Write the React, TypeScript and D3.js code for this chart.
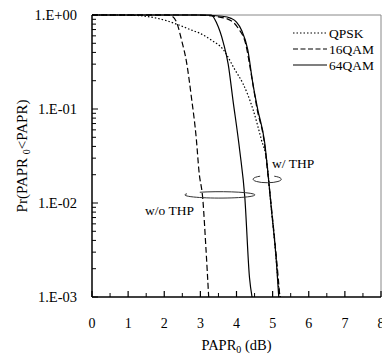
import React from "react";
import * as d3 from "d3";

// ---- data (x: PAPR0 in dB, y: Pr(PAPR0 < PAPR)) ----
const qpskDb = [0, 0.64, 1.2, 1.6, 2.06, 2.34, 2.76, 2.98, 3.31, 3.63, 3.96, 4.18, 4.46, 4.69, 4.83, 4.96, 5.06, 5.19, 5.22];
const qpskP = [1, 1, 0.99, 0.955, 0.87, 0.8, 0.69, 0.64, 0.54, 0.43, 0.26, 0.186, 0.098, 0.047, 0.029, 0.0091, 0.0037, 0.0011, 0.001];

const qam16NoThpDb = [0, 2.1, 2.2, 2.35, 2.48, 2.62, 2.75, 2.89, 2.96, 3.07, 3.15, 3.23];
const qam16NoThpP = [1, 1, 0.98, 0.82, 0.54, 0.31, 0.135, 0.047, 0.022, 0.0107, 0.0035, 0.001];

const qam64NoThpDb = [0, 3.3, 3.45, 3.64, 3.77, 3.9, 4.09, 4.23, 4.36, 4.43];
const qam64NoThpP = [1, 1, 0.82, 0.5, 0.3, 0.126, 0.036, 0.0115, 0.0016, 0.001];

const qam16ThpDb = [0, 2.9, 3.5, 3.85, 4.05, 4.25, 4.42, 4.57, 4.77, 4.87, 4.97, 5.11, 5.2];
const qam16ThpP = [1, 1, 0.955, 0.87, 0.72, 0.5, 0.22, 0.1, 0.044, 0.02, 0.0087, 0.0025, 0.001];

const qam64ThpDb = [0, 2.93, 3.6, 3.85, 4.0, 4.14, 4.31, 4.45, 4.59, 4.78, 4.87, 4.96, 5.1, 5.17];
const qam64ThpP = [1, 1, 0.97, 0.92, 0.84, 0.69, 0.43, 0.19, 0.098, 0.044, 0.021, 0.0091, 0.0025, 0.001];

const xTicks = [0, 1, 2, 3, 4, 5, 6, 7, 8];
const yTickValues = [1, 0.1, 0.01, 0.001];
const yTickLabels = ["1.E+00", "1.E-01", "1.E-02", "1.E-03"];
const legendLabels = ["QPSK", "16QAM", "64QAM"];

const FONT = "'Liberation Serif', 'Times New Roman', serif";

export default function App() {
  const W = 382, H = 356;
  const left = 92, right = 381, top = 15, bottom = 297;
  const x = d3.scaleLinear().domain([0, 8]).range([left, right]);
  const y = d3.scaleLog().domain([0.001, 1]).range([bottom, top]);

  const line = d3
    .line<[number, number]>()
    .x((d) => x(d[0]))
    .y((d) => y(d[1]))
    .curve(d3.curveMonotoneX);
  const pts = (a: number[], b: number[]) => a.map((v, i) => [v, b[i]] as [number, number]);

  const series = [
    { d: pts(qam64NoThpDb, qam64NoThpP), dash: undefined as string | undefined },
    { d: pts(qam64ThpDb, qam64ThpP), dash: undefined },
    { d: pts(qam16NoThpDb, qam16NoThpP), dash: "6,3" },
    { d: pts(qam16ThpDb, qam16ThpP), dash: "6,3" },
    { d: pts(qpskDb, qpskP), dash: "1.5,2" },
  ];

  // minor ticks
  const yMinor: number[] = [];
  for (let e = -3; e < 0; e++) for (let m = 2; m <= 9; m++) yMinor.push(m * Math.pow(10, e));
  const xMinor = d3.range(0.5, 8, 1);

  // loops (annotation ellipses) located in data units
  const ellipse = (cxV: number, cyV: number, rxD: number, ry: number, a0: number, a1: number) => {
    const cx = x(cxV), cy = y(cyV);
    const rx = x(cxV + rxD) - cx;
    const p = (t: number) => [cx + rx * Math.cos((t * Math.PI) / 180), cy + ry * Math.sin((t * Math.PI) / 180)];
    const s = p(a0), e = p(a1);
    const large = a1 - a0 > 180 ? 1 : 0;
    return `M${s[0]},${s[1]} A${rx},${ry} 0 ${large} 1 ${e[0]},${e[1]}`;
  };

  const legendY = [33, 49, 65];
  const legendDash = ["1.5,2", "5,2.5", undefined];

  return (
    <svg width={W} height={H} style={{ position: "absolute", left: 0, top: 0, background: "#fff" }} fontFamily={FONT}>
      <rect x={0} y={0} width={W} height={H} fill="#fff" />
      {/* frame top/right */}
      <line x1={left} x2={right} y1={top} y2={top} stroke="#888" strokeWidth={1} />
      <line x1={right} x2={right} y1={top} y2={bottom} stroke="#888" strokeWidth={1} />

      {/* curves */}
      {series.map((s, i) => (
        <path key={i} d={line(s.d) || ""} fill="none" stroke="#000" strokeWidth={1.2} strokeDasharray={s.dash} />
      ))}

      {/* axes */}
      <line x1={left} x2={left} y1={top} y2={bottom} stroke="#000" strokeWidth={1.5} />
      <line x1={left} x2={right} y1={bottom} y2={bottom} stroke="#000" strokeWidth={1.5} />
      {yTickValues.map((v) => (
        <line key={"ym" + v} x1={left} x2={left + 6} y1={y(v)} y2={y(v)} stroke="#000" strokeWidth={1} />
      ))}
      {yMinor.map((v) => (
        <line key={"yn" + v} x1={left} x2={left + 4} y1={y(v)} y2={y(v)} stroke="#000" strokeWidth={1} />
      ))}
      {xTicks.map((v) => (
        <line key={"xm" + v} x1={x(v)} x2={x(v)} y1={bottom} y2={bottom - 6} stroke="#000" strokeWidth={1.2} />
      ))}
      {xMinor.map((v) => (
        <line key={"xn" + v} x1={x(v)} x2={x(v)} y1={bottom} y2={bottom - 4} stroke="#000" strokeWidth={1} />
      ))}

      {/* tick labels */}
      {yTickValues.map((v, i) => (
        <text key={"yl" + v} x={77} y={y(v)} dy="0.35em" textAnchor="end" fontSize={14.5} fill="#000">
          {yTickLabels[i]}
        </text>
      ))}
      {xTicks.map((v) => (
        <text key={"xl" + v} x={x(v)} y={323} dy="0.35em" textAnchor="middle" fontSize={14} fill="#000">
          {v}
        </text>
      ))}

      {/* axis titles */}
      <text x={(left + right) / 2} y={350} textAnchor="middle" fontSize={14.5} fill="#000">
        PAPR<tspan fontSize={10} dy={3}>0</tspan>
        <tspan dy={-3}> (dB)</tspan>
      </text>
      <text transform={`translate(27,${(top + bottom) / 2}) rotate(-90)`} textAnchor="middle" fontSize={15} fill="#000">
        Pr(PAPR <tspan fontSize={10} dy={3}>0</tspan>
        <tspan dy={-3}>&lt;PAPR)</tspan>
      </text>

      {/* legend */}
      {legendLabels.map((l, i) => (
        <g key={l}>
          <line x1={293} x2={327} y1={legendY[i]} y2={legendY[i]} stroke="#000" strokeWidth={1.2} strokeDasharray={legendDash[i]} />
          <text x={329} y={legendY[i]} dy="0.35em" fontSize={13.5} fill="#000">
            {l}
          </text>
        </g>
      ))}

      {/* annotations */}
      <path d={ellipse(3.54, 0.0122, 0.97, 3.2, -125, 200)} fill="none" stroke="#333" strokeWidth={1} />
      <path d={ellipse(4.85, 0.0179, 0.39, 3.5, -60, 240)} fill="none" stroke="#333" strokeWidth={1} />
      <text x={145} y={215} fontSize={13.5} fill="#000">w/o THP</text>
      <text x={272} y={168} fontSize={13.5} fill="#000">w/ THP</text>
    </svg>
  );
}
